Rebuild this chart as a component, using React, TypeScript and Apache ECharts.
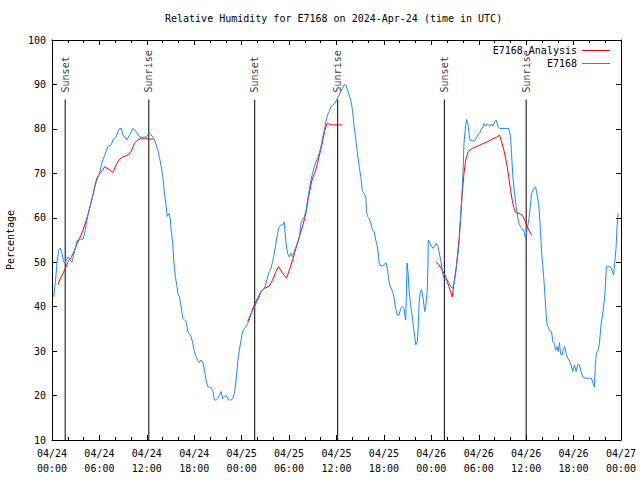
import React, { useEffect, useRef } from "react";
import * as echarts from "echarts";

// time in hours since 2024-04-24 00:00 UTC
const obsHours = [
  0.21, 0.43, 0.63, 0.85, 1.06, 1.26, 1.48, 1.6, 1.82, 2.02, 2.32, 2.53, 2.74, 2.99, 3.16, 3.5, 3.92, 4.13, 4.35, 4.55,
  4.76, 4.98, 5.18, 5.39, 5.61, 5.81, 6.03, 6.24, 6.44, 6.66, 7.07, 7.5, 7.7, 7.92, 8.13, 8.34, 8.55, 8.77, 8.97, 9.18,
  9.47, 9.81, 10.23, 10.66, 11.08, 11.49, 11.92, 12.34, 12.76, 12.97, 13.19, 13.39, 13.6, 13.82, 14.02, 14.23, 14.45, 14.58, 14.78, 14.96,
  15.08, 15.28, 15.37, 15.5, 15.62, 15.79, 15.92, 16.13, 16.34, 16.55, 16.76, 16.98, 17.18, 17.39, 17.61, 17.81, 18.02, 18.24, 18.44, 18.66,
  18.87, 19.07, 19.29, 19.5, 19.7, 20.13, 20.34, 20.55, 20.77, 20.97, 21.18, 21.4, 21.6, 21.81, 22.03, 22.23, 22.45, 22.66, 22.86, 23.08,
  23.29, 23.49, 23.71, 23.92, 24.13, 24.34, 24.55, 24.76, 24.97, 25.19, 25.39, 25.6, 25.82, 26.02, 26.23, 26.45, 26.65, 26.87, 27.08, 27.28,
  27.5, 27.71, 27.91, 28.13, 28.34, 28.55, 28.76, 28.98, 29.18, 29.39, 29.61, 29.81, 30.02, 30.24, 30.44, 30.66, 30.87, 31.07, 31.29, 31.5,
  31.7, 31.92, 32.13, 32.34, 32.55, 32.76, 32.97, 33.18, 33.4, 33.6, 33.81, 34.03, 34.23, 34.45, 34.66, 34.86, 35.08, 35.29, 35.58, 35.83,
  36.0, 36.25, 36.55, 36.76, 36.97, 37.19, 37.39, 37.6, 37.82, 38.02, 38.23, 38.45, 38.65, 38.87, 39.08, 39.28, 39.5, 39.71, 39.79, 39.91,
  40.13, 40.34, 40.55, 40.76, 40.97, 41.18, 41.39, 41.61, 42.03, 42.24, 42.44, 42.57, 42.74, 43.0, 43.16, 43.29, 43.41, 43.58, 43.7, 43.91,
  44.13, 44.33, 44.55, 44.68, 44.76, 44.84, 44.93, 45.06, 45.18, 45.4, 45.6, 45.73, 45.9, 46.03, 46.23, 46.36, 46.45, 46.57, 46.74, 46.86,
  46.99, 47.16, 47.29, 47.49, 47.58, 47.62, 47.8, 48.05, 48.25, 48.46, 48.63, 48.85, 48.97, 49.19, 49.39, 49.6, 49.82, 50.02, 50.23, 50.45,
  50.65, 50.86, 51.08, 51.28, 51.5, 51.71, 51.92, 52.04, 52.13, 52.35, 52.47, 52.64, 52.77, 52.9, 53.18, 53.48, 53.69, 53.9, 54.11, 54.31,
  54.53, 54.66, 54.87, 55.07, 55.38, 55.58, 55.79, 56.04, 56.21, 56.42, 56.64, 56.97, 57.47, 57.81, 58.03, 58.15, 58.32, 58.53, 58.74, 58.91,
  59.08, 59.29, 59.49, 59.71, 59.92, 60.13, 60.34, 60.56, 60.68, 60.97, 61.19, 61.39, 61.6, 61.81, 61.94, 62.11, 62.23, 62.36, 62.52, 62.65,
  62.95, 63.21, 63.37, 63.59, 63.71, 63.92, 64.05, 64.22, 64.35, 64.55, 64.67, 64.89, 65.05, 65.27, 65.48, 65.68, 65.9, 66.11, 66.31, 66.53,
  66.74, 66.94, 67.16, 67.5, 67.92, 68.26, 68.46, 68.64, 68.76, 68.89, 69.09, 69.27, 69.47, 69.69, 69.9, 70.03, 70.15, 70.57, 70.78, 71.07,
  71.2, 71.37, 71.5, 71.63,
];
const obsValues = [
  42.2, 45.6, 49.8, 52.7, 53.2, 52.0, 50.1, 49.8, 50.5, 51.2, 50.5, 50.0, 51.6, 53.5, 54.8, 55.2, 55.2, 56.5, 58.8, 60.6,
  62.2, 63.6, 65.1, 66.6, 68.1, 69.1, 70.0, 71.9, 73.0, 74.0, 76.0, 76.4, 77.5, 78.0, 78.2, 79.4, 80.1, 80.1, 78.6, 78.2,
  77.5, 78.6, 80.1, 79.4, 78.2, 78.1, 78.2, 79.0, 78.2, 77.5, 76.4, 75.2, 73.6, 71.5, 69.2, 65.5, 62.5, 60.3, 61.0, 59.9,
  57.2, 54.3, 51.2, 48.6, 46.6, 44.8, 43.0, 42.2, 40.0, 37.4, 37.0, 36.6, 34.4, 33.9, 33.2, 31.8, 29.9, 28.7, 28.0, 27.4,
  28.0, 27.6, 25.7, 23.5, 22.0, 21.8, 21.2, 19.0, 19.0, 19.3, 20.1, 20.9, 19.3, 19.7, 20.1, 19.3, 19.0, 19.0, 19.3, 20.5,
  23.5, 27.3, 30.2, 32.5, 34.4, 35.1, 35.5, 36.2, 37.0, 38.3, 39.2, 39.8, 40.7, 41.5, 42.2, 43.4, 43.8, 44.1, 45.2, 46.7,
  47.9, 48.6, 50.1, 52.0, 54.3, 56.5, 58.0, 58.4, 58.4, 59.1, 54.3, 52.0, 51.2, 52.0, 51.2, 52.4, 53.5, 54.3, 55.4, 58.8,
  59.5, 60.2, 61.4, 64.0, 66.2, 68.5, 70.0, 71.5, 72.6, 73.4, 74.5, 76.0, 77.9, 79.7, 81.6, 83.1, 83.9, 85.0, 85.4, 85.8,
  86.5, 87.2, 88.4, 89.1, 89.9, 89.9, 88.8, 87.6, 86.5, 84.2, 80.5, 77.5, 74.5, 71.5, 69.2, 65.9, 65.5, 64.7, 61.7, 60.3,
  59.9, 58.8, 57.2, 56.9, 55.0, 53.5, 50.0, 49.1, 49.4, 49.9, 48.6, 46.7, 44.9, 43.8, 43.0, 41.9, 40.4, 38.9, 38.1, 38.1,
  39.6, 40.0, 39.6, 37.7, 37.0, 42.2, 49.8, 47.5, 43.8, 40.0, 37.7, 35.5, 33.2, 31.4, 32.1, 36.2, 40.7, 43.0, 43.8, 43.0,
  41.5, 38.9, 40.0, 43.8, 50.5, 55.0, 54.3, 53.5, 53.1, 53.8, 54.3, 53.5, 52.4, 50.5, 47.9, 46.4, 46.0, 46.0, 45.4, 44.5,
  44.1, 45.0, 47.5, 50.5, 54.0, 60.0, 67.0, 71.5, 76.8, 80.9, 82.1, 80.9, 79.0, 77.5, 77.3, 77.3, 77.9, 78.6, 79.0, 79.9,
  80.5, 81.2, 80.6, 81.1, 80.6, 81.1, 80.6, 81.6, 82.0, 80.6, 80.1, 80.1, 80.1, 80.1, 78.2, 74.5, 69.2, 65.5, 62.5, 60.3,
  58.8, 58.0, 57.6, 56.9, 55.4, 57.6, 59.5, 63.3, 65.5, 66.6, 67.0, 65.1, 62.9, 57.2, 52.7, 49.0, 46.4, 43.0, 38.5, 35.9,
  34.7, 34.4, 32.1, 31.8, 30.2, 31.0, 29.9, 31.9, 29.3, 29.1, 30.2, 31.0, 29.5, 28.4, 27.8, 26.9, 25.4, 26.9, 25.4, 26.9,
  26.9, 25.4, 24.2, 23.9, 23.9, 23.9, 22.7, 21.9, 27.3, 29.5, 30.2, 31.8, 35.9, 38.5, 41.5, 44.5, 49.0, 49.0, 48.6, 47.1,
  49.8, 53.1, 58.0, 61.0,
];

// Analysis runs (three separate segments)
const anaHours1 = [0.76, 0.97, 1.39, 1.69, 2.02, 2.45, 2.87, 3.16, 3.5, 3.92, 4.35, 4.76, 5.18, 5.39, 5.68, 6.03, 6.44, 6.66, 7.29, 7.7, 8.13, 8.55, 8.97, 9.6, 10.03, 10.45, 10.86, 11.29, 11.92, 12.34, 12.85];
const anaValues1 = [44.9, 46.0, 47.5, 48.6, 50.1, 51.2, 52.7, 54.1, 55.4, 57.2, 59.5, 62.1, 65.1, 67.0, 68.9, 70.0, 70.8, 71.5, 70.8, 70.2, 71.9, 73.2, 73.7, 74.1, 75.0, 76.8, 77.5, 77.9, 77.9, 77.7, 77.7];
const anaHours2 = [24.76, 25.19, 25.6, 26.02, 26.45, 26.87, 27.5, 27.91, 28.34, 28.67, 29.18, 29.68, 30.02, 30.44, 30.87, 31.29, 31.7, 32.13, 32.46, 32.89, 33.31, 33.6, 33.9, 34.23, 34.53, 34.79, 35.08, 35.49, 36.13, 36.68];
const anaValues2 = [36.6, 38.5, 40.4, 41.9, 43.4, 44.1, 44.6, 46.0, 47.9, 49.0, 47.5, 46.4, 48.2, 50.5, 53.1, 55.7, 58.0, 61.0, 64.7, 68.5, 70.4, 72.3, 74.5, 77.1, 79.7, 81.2, 81.1, 80.9, 80.9, 80.9];
const anaHours3 = [48.59, 48.97, 49.39, 49.82, 50.23, 50.65, 50.86, 51.16, 51.5, 51.71, 51.92, 52.13, 52.35, 52.67, 53.18, 53.81, 54.44, 55.07, 55.7, 56.33, 56.64, 56.89, 57.18, 57.4, 57.6, 57.81, 58.03, 58.23, 58.53, 58.74, 59.08, 59.49, 59.83, 60.05, 60.34, 60.68];
const anaValues3 = [50.1, 49.4, 48.2, 46.7, 44.5, 42.2, 45.2, 49.0, 55.0, 60.3, 65.5, 70.0, 73.0, 74.9, 75.6, 76.1, 76.6, 77.1, 77.7, 78.2, 78.6, 77.1, 75.2, 73.4, 71.5, 68.9, 66.2, 64.0, 61.7, 61.1, 61.0, 60.6, 59.5, 58.4, 57.2, 56.1];

const sunEventHours = [1.67, 12.25, 25.65, 36.15, 49.65, 60.0];
const sunEventNames = ["Sunset", "Sunrise", "Sunset", "Sunrise", "Sunset", "Sunrise"];
const sunLineBottom = 10;
const sunLineTop = 86.6;
const sunLabelAt = 88.2;

const FONT = "DejaVu Sans Mono";
const BLUE = "#1e88ff";
const RED = "#ff0000";

function zip(a: number[], b: number[]) {
  return a.map((x, i) => [x, b[i]]);
}

function fmtTime(h: number) {
  const day = 24 + Math.floor(h / 24 + 1e-9);
  const hr = Math.round(h - (day - 24) * 24);
  const dd = String(day).padStart(2, "0");
  const hh = String(hr).padStart(2, "0");
  return `04/${dd}\n${hh}:00`;
}

export default function App() {
  const ref = useRef<HTMLDivElement>(null);
  useEffect(() => {
    if (!ref.current) return;
    const chart = echarts.init(ref.current, null, { renderer: "svg" });
    const textBase = { fontFamily: FONT, fontSize: 10, color: "#000" };
    const sunLineSeries = sunEventHours.map((t, i) => ({
      name: "sun" + i,
      type: "line",
      xAxisIndex: 0,
      yAxisIndex: 0,
      data: [[t, sunLineBottom], [t, sunLineTop]],
      symbol: "none",
      silent: true,
      lineStyle: { color: "#000", width: 1 },
      z: 1,
    }));
    const sunLabelSeries = {
      name: "sunLabels",
      type: "scatter",
      data: sunEventHours.map((t, i) => ({ value: [t, sunLabelAt], name: sunEventNames[i] })),
      symbolSize: 0,
      silent: true,
      label: {
        show: true,
        formatter: (p: any) => p.name,
        position: [0, 0],
        rotate: 90,
        align: "left",
        verticalAlign: "middle",
        ...textBase,
      },
      z: 2,
    };
    const anaSegments = [
      zip(anaHours1, anaValues1),
      zip(anaHours2, anaValues2),
      zip(anaHours3, anaValues3),
    ].map((d) => ({
      name: "E7168 Analysis",
      type: "line",
      data: d,
      symbol: "none",
      color: RED,
      lineStyle: { color: RED, width: 1 },
      z: 3,
    }));
    const obsSeries = {
      name: "E7168",
      type: "line",
      data: zip(obsHours, obsValues),
      symbol: "none",
      color: BLUE,
      lineStyle: { color: BLUE, width: 1 },
      z: 4,
    };
    const xCommon = {
      type: "value",
      min: 0,
      max: 72,
      interval: 6,
      axisLine: { show: true, onZero: false, lineStyle: { color: "#000", width: 1 } },
      axisTick: { show: true, inside: true, length: 5, lineStyle: { color: "#000" } },
      minorTick: { show: true, splitNumber: 3, length: 3, lineStyle: { color: "#000" } },
      splitLine: { show: false },
    };
    const yCommon = {
      type: "value",
      min: 10,
      max: 100,
      interval: 10,
      axisLine: { show: true, onZero: false, lineStyle: { color: "#000", width: 1 } },
      axisTick: { show: true, inside: true, length: 5, lineStyle: { color: "#000" } },
      splitLine: { show: false },
    };
    chart.setOption({
      animation: false,
      backgroundColor: "#fff",
      title: {
        text: "Relative Humidity for E7168 on 2024-Apr-24 (time in UTC)",
        left: 165,
        top: 13,
        padding: 0,
        textStyle: { ...textBase, fontWeight: "normal" },
      },
      legend: {
        data: ["E7168 Analysis", "E7168"],
        orient: "vertical",
        align: "right",
        right: 30,
        top: 44,
        padding: 0,
        itemGap: 0,
        itemWidth: 28,
        itemHeight: 1,
        icon: "rect",
        textStyle: { ...textBase, lineHeight: 13 },
        selectedMode: false,
      },
      grid: { left: 52, right: 19, top: 40, bottom: 40, containLabel: false, outerBoundsMode: "none" },
      xAxis: [
        {
          ...xCommon,
          position: "bottom",
          axisLabel: {
            ...textBase,
            margin: 6,
            lineHeight: 15,
            formatter: (v: number) => fmtTime(v),
          },
        },
        { ...xCommon, position: "top", axisLabel: { show: false } },
      ],
      yAxis: [
        {
          ...yCommon,
          position: "left",
          name: "Percentage",
          nameLocation: "middle",
          nameGap: 37,
          nameRotate: 90,
          nameTextStyle: { ...textBase },
          axisLabel: { ...textBase, margin: 6 },
        },
        { ...yCommon, position: "right", axisLabel: { show: false } },
      ],
      series: [...sunLineSeries, sunLabelSeries, ...anaSegments, obsSeries],
    });
    return () => chart.dispose();
  }, []);
  return <div ref={ref} style={{ position: "fixed", left: 0, top: 0, width: 640, height: 480 }} />;
}
